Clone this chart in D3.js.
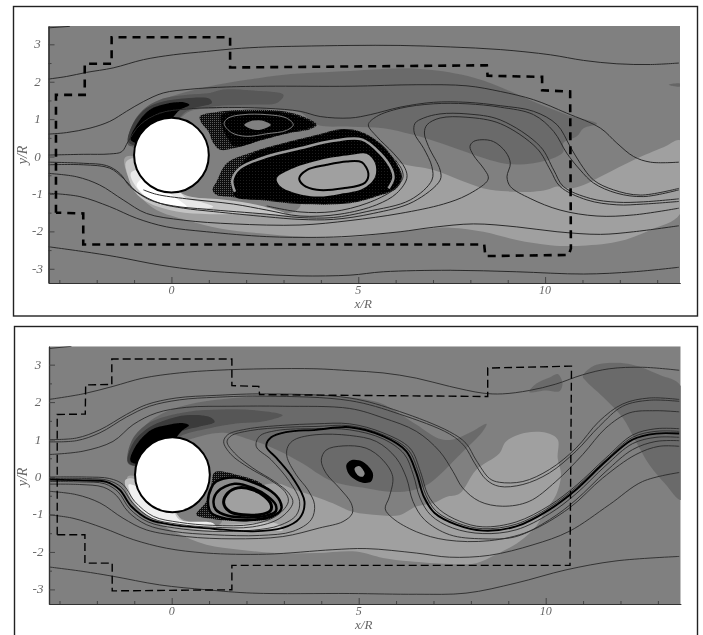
<!DOCTYPE html>
<html>
<head>
<meta charset="utf-8">
<style>
body { margin: 0; background: #fff; }
svg { display: block; }
.tick-label, .axis-title { font-family: "Liberation Serif", serif; font-style: italic; fill: #666; }
</style>
<script src="https://cdn.jsdelivr.net/npm/d3@7"></script>
</head>
<body>
<svg id="chart"></svg>
<script>
// tick values, shared by both panels
const xMajor = [0, 5, 10];
const xMinor = [-3, -2, -1, 1, 2, 3, 4, 6, 7, 8, 9, 11, 12, 13];
const yMajor = [-3, -2, -1, 0, 1, 2, 3];
const yMinor = [-3.5, -2.5, -1.5, -0.5, 0.5, 1.5, 2.5, 3.5];

// upper panel: filled levels, all in x/R, y/R
const p1Wake = [[-1.11,0.36],[-1.07,0.76],[-0.71,1.25],[-0.13,1.56],[0.94,1.86],[2.01,2.05],[3.00,2.19],[4.78,2.29],[6.57,2.35],[7.91,2.16],[8.80,1.86],[9.69,1.47],[10.58,1.12],[11.39,0.88],[11.03,0.76],[10.85,0.54],[10.49,0.36],[10.49,0.13],[10.23,-0.04],[9.69,-0.18],[8.98,-0.20],[8.35,-0.04],[7.46,0.27],[6.47,0.58],[5.67,0.76],[4.78,0.80],[3.89,0.85],[3.44,1.18],[2.55,1.28],[1.21,1.28],[0.50,1.21],[0.00,0.80],[-0.60,0.40],[-0.95,0.20]];
const p1Dark1 = [[-1.16,0.31],[-1.07,0.80],[-0.76,1.25],[-0.31,1.52],[0.41,1.65],[1.03,1.70],[1.39,1.79],[2.11,1.77],[3.00,1.65],[2.82,1.43],[2.20,1.39],[1.12,1.34],[0.41,1.21],[0.00,0.80],[-0.60,0.50],[-0.90,0.30]];
const p1Dark2 = [[-1.16,0.40],[-1.02,0.89],[-0.67,1.29],[-0.22,1.47],[0.41,1.56],[1.03,1.54],[1.08,1.43],[0.68,1.32],[0.14,1.21],[-0.10,0.80],[-0.60,0.50],[-0.95,0.30]];
const p1Dark3 = [[-1.09,0.45],[-0.93,0.85],[-0.58,1.25],[-0.13,1.41],[0.32,1.45],[0.48,1.38],[0.23,1.25],[0.00,1.00],[-0.40,0.60],[-0.80,0.35]];
const p1Light = [[3.44,-0.27],[4.78,0.18],[5.67,0.04],[6.12,-0.18],[7.01,-0.36],[7.73,-0.63],[8.53,-0.89],[9.24,-0.94],[9.69,-0.94],[10.05,-0.89],[10.32,-0.80],[10.67,-0.85],[11.03,-0.76],[11.57,-0.49],[12.37,-0.09],[13.17,0.25],[13.62,0.43],[13.62,-1.52],[12.82,-1.96],[11.92,-2.28],[10.85,-2.39],[10.14,-2.37],[9.24,-2.23],[8.35,-2.01],[7.46,-1.90],[6.12,-2.01],[4.78,-2.16],[3.44,-2.14],[2.37,-2.05],[1.30,-1.92],[0.41,-1.70],[-0.40,-1.43],[-0.84,-1.07],[-1.16,-0.54],[-1.25,-0.04],[-1.02,0.00],[-0.75,-0.80],[-0.31,-0.98],[0.41,-1.07],[1.12,-1.16],[2.10,-1.34],[3.08,-1.52],[3.44,-1.34]];
const p1Pale1 = [[-1.22,-0.15],[-1.17,-0.50],[-0.98,-0.94],[-0.58,-1.25],[0.14,-1.47],[1.03,-1.54],[2.28,-1.52],[3.08,-1.54],[2.28,-1.29],[1.48,-1.16],[0.49,-1.07],[0.00,-0.85],[-0.50,-0.70],[-0.85,-0.30],[-1.00,-0.05]];
const p1Pale2 = [[-1.09,-0.45],[-0.89,-0.89],[-0.49,-1.21],[0.14,-1.34],[0.94,-1.38],[1.12,-1.34],[0.76,-1.21],[0.41,-1.12],[0.10,-0.85],[-0.50,-0.70],[-0.85,-0.35]];
const p1Pale3 = [[-0.93,-0.76],[-0.67,-1.07],[-0.22,-1.25],[0.41,-1.34],[0.14,-1.12],[-0.30,-0.80],[-0.70,-0.55]];
const p1Streak = [[13.31,1.92],[13.62,1.95],[13.62,1.88],[13.44,1.88]];

// upper panel: the two recirculation cells
const p1TopCell = [[0.76,1.07],[1.21,1.19],[2.10,1.25],[3.00,1.21],[3.62,1.03],[3.89,0.85],[3.71,0.73],[3.17,0.63],[2.46,0.45],[1.66,0.22],[1.30,0.18],[1.12,0.36],[0.99,0.67],[0.81,0.89]];
const p1TopCore = [[1.34,1.12],[2.10,1.21],[3.00,1.18],[3.60,1.00],[3.84,0.85],[3.67,0.75],[3.17,0.64],[2.46,0.46],[1.70,0.27],[1.50,0.49],[1.37,0.76]];
const p1TopRing = [[1.41,0.88],[1.52,1.03],[1.92,1.12],[2.55,1.12],[3.08,1.03],[3.26,0.85],[3.08,0.70],[2.55,0.61],[2.01,0.54],[1.61,0.64]];
const p1TopEye = [[1.95,0.85],[2.10,0.94],[2.30,0.97],[2.50,0.94],[2.66,0.85],[2.50,0.75],[2.30,0.71],[2.10,0.75]];
const p1LowCell = [[1.10,-0.89],[1.21,-0.67],[1.48,-0.18],[2.19,0.13],[3.00,0.36],[3.89,0.58],[4.51,0.73],[5.05,0.67],[5.58,0.36],[6.03,-0.18],[6.17,-0.54],[6.03,-0.85],[5.49,-1.07],[4.78,-1.25],[3.44,-1.27],[2.55,-1.18],[1.66,-1.09],[1.21,-1.03]];
const p1LowCore = [[1.70,-1.07],[1.66,-0.63],[1.92,-0.13],[2.19,0.09],[3.00,0.34],[3.89,0.56],[4.51,0.71],[5.05,0.65],[5.58,0.34],[6.01,-0.18],[6.15,-0.54],[6.01,-0.83],[5.49,-1.05],[4.78,-1.23],[3.44,-1.25],[2.55,-1.16]];
const p1LowBand = [[1.70,-0.94],[1.63,-0.63],[1.83,-0.31],[2.55,0.00],[3.44,0.22],[4.33,0.42],[5.09,0.46],[5.58,0.09],[5.90,-0.36],[5.94,-0.58],[5.81,-0.85]];
const p1LowPool = [[2.82,-0.58],[3.26,-0.31],[3.98,-0.09],[4.78,0.04],[5.23,0.07],[5.45,-0.18],[5.45,-0.54],[5.14,-0.85],[4.51,-1.00],[3.89,-1.07],[3.26,-0.96],[2.91,-0.79]];
const p1LowRing = [[3.42,-0.58],[3.62,-0.36],[4.16,-0.22],[4.69,-0.13],[5.09,-0.15],[5.27,-0.45],[5.18,-0.70],[4.60,-0.85],[3.89,-0.89],[3.53,-0.76]];

// upper panel: streamlines
const p1Corner = [[-3.30,3.44],[-2.72,3.48]];
const p1S1 = [[-3.30,2.07],[-2.81,2.14],[-2.27,2.25],[-1.56,2.37],[-0.75,2.59],[0.05,2.72],[0.94,2.81],[1.66,2.88],[2.55,2.93],[3.44,2.95],[4.78,2.97],[6.12,2.97],[7.46,2.93],[8.80,2.86],[10.14,2.72],[11.03,2.57],[11.92,2.48],[12.82,2.46],[13.58,2.50]];
const p1S2 = [[-3.30,0.60],[-2.81,0.64],[-2.18,0.76],[-1.65,0.94],[-1.20,1.21],[-0.75,1.47],[-0.22,1.70],[0.50,1.80],[1.48,1.86],[2.55,1.88],[4.78,1.88],[6.57,1.92],[7.91,1.89],[8.80,1.74],[9.69,1.52],[10.58,1.16],[11.48,0.76],[11.92,0.36],[12.37,0.00],[12.82,-0.15],[13.58,-0.15]];
const p1S3 = [[-3.30,0.04],[-2.36,0.06],[-1.65,0.07],[-1.33,0.13],[-1.16,0.40],[-0.84,0.85],[-0.31,1.16],[0.41,1.27],[1.21,1.31],[2.55,1.29],[3.44,1.21],[3.98,1.07],[4.78,1.03],[5.32,1.12],[6.12,1.32],[7.01,1.45],[7.91,1.45],[8.80,1.36],[9.69,1.21],[10.32,0.85],[10.67,0.27],[10.94,-0.18],[11.30,-0.63],[11.83,-0.89],[12.55,-1.03],[13.58,-0.85]];
const p1S4 = [[-0.75,-0.89],[-0.40,-1.01],[0.41,-1.13],[1.66,-1.27],[2.55,-1.43],[3.44,-1.59],[4.51,-1.54],[5.49,-1.29],[6.03,-0.98],[6.30,-0.58],[6.25,-0.31],[5.94,0.09],[5.49,0.54],[5.27,0.85],[5.49,1.07],[6.12,1.29],[7.01,1.41],[7.91,1.41],[8.80,1.32],[9.69,1.12],[10.23,0.67],[10.58,0.09],[10.94,-0.36],[11.30,-0.71],[11.92,-0.98],[12.64,-1.07],[13.58,-0.89]];
const p1S5 = [[2.55,-1.32],[3.44,-1.48],[4.33,-1.47],[5.23,-1.25],[5.94,-0.89],[6.19,-0.58],[6.17,-0.36],[5.99,-0.09]];
const p1S6 = [[-3.30,-0.15],[-2.36,-0.18],[-1.74,-0.24],[-1.38,-0.45],[-1.11,-0.80],[-0.58,-1.16],[0.05,-1.32],[0.94,-1.41],[2.55,-1.54],[3.44,-1.63],[4.33,-1.63],[5.23,-1.47],[6.39,-1.16],[6.97,-0.63],[6.97,-0.27],[6.75,0.22],[6.50,0.63],[6.52,0.89],[6.75,1.03],[7.19,1.14],[7.91,1.14],[8.80,0.98],[9.87,0.27],[10.23,-0.36],[10.49,-0.80],[11.21,-1.12],[11.92,-1.22],[12.64,-1.21],[13.58,-1.13]];
const p1S7 = [[-3.30,-0.22],[-2.36,-0.22],[-1.65,-0.31],[-1.29,-0.58],[-0.93,-0.94],[-0.31,-1.25],[0.32,-1.38],[1.12,-1.47],[2.55,-1.61],[3.44,-1.68],[4.33,-1.68],[5.40,-1.52],[6.47,-1.21],[7.19,-0.63],[7.19,-0.36],[6.88,0.27],[6.77,0.63],[6.84,0.85],[7.19,1.03],[7.91,1.05],[8.80,0.88],[9.78,0.22],[10.14,-0.36],[10.40,-0.80],[11.12,-1.16],[11.92,-1.29],[12.64,-1.27],[13.58,-1.20]];
const p1S8 = [[-3.30,-0.45],[-2.54,-0.54],[-1.92,-0.76],[-1.29,-1.16],[-0.67,-1.52],[0.32,-1.70],[1.66,-1.80],[3.44,-1.83],[4.78,-1.71],[6.12,-1.52],[7.28,-1.27],[7.91,-1.03],[8.44,-0.67],[8.48,-0.54],[8.35,-0.31],[8.08,0.04],[7.99,0.27],[8.08,0.40],[8.31,0.45],[8.62,0.40],[8.94,0.13],[9.07,-0.18],[8.98,-0.54],[9.07,-0.80],[9.60,-1.12],[10.40,-1.43],[11.39,-1.59],[12.37,-1.56],[13.58,-1.38]];
const p1S9 = [[-3.30,-0.98],[-2.45,-1.07],[-1.65,-1.34],[-0.93,-1.65],[-0.13,-1.88],[0.94,-2.01],[2.55,-2.14],[3.89,-2.16],[4.78,-2.13],[6.12,-2.01],[7.01,-1.89],[8.08,-1.80],[9.24,-1.88],[10.32,-2.01],[11.48,-2.08],[12.37,-2.01],[13.58,-1.85]];
const p1S10 = [[-3.30,-2.41],[-2.36,-2.54],[-1.47,-2.68],[-0.31,-2.90],[0.76,-3.04],[2.10,-3.13],[3.44,-3.19],[4.78,-3.17],[5.67,-3.08],[7.46,-3.04],[9.24,-3.08],[11.03,-3.14],[12.37,-3.08],[13.58,-2.96]];
const p1Lines = [p1Corner, p1S1, p1S2, p1S3, p1S4, p1S5, p1S6, p1S7, p1S8, p1S9, p1S10];

// dashed box, upper panel
const p1Box = [[-3.09,-1.50],[-3.09,1.65],[-2.32,1.65],[-2.32,2.48],[-1.60,2.48],[-1.60,3.19],[1.57,3.19],[1.57,2.38],[8.44,2.44],[8.46,2.16],[9.92,2.13],[9.92,1.77],[10.67,1.74],[10.69,-2.46],[10.63,-2.63],[8.40,-2.66],[8.37,-2.35],[-2.36,-2.35],[-2.36,-1.52],[-3.09,-1.50]];

// lower panel: filled levels
const p2Wake = [[-1.08,0.33],[-1.03,0.77],[-0.68,1.40],[-0.14,1.75],[0.66,1.98],[1.64,2.11],[2.97,2.18],[4.76,2.13],[5.56,1.98],[6.00,1.75],[6.54,1.40],[7.16,1.02],[7.52,1.00],[7.96,1.18],[8.42,1.42],[8.32,1.22],[7.70,0.59],[6.89,-0.17],[6.45,-0.35],[5.91,-0.40],[5.20,-0.30],[4.31,-0.12],[3.42,0.41],[2.80,0.73],[2.08,1.00],[1.37,1.18],[0.61,1.04],[0.00,0.80],[-0.60,0.40]];
const p2Dark1 = [[-1.17,0.37],[-1.08,0.95],[-0.68,1.40],[-0.14,1.62],[0.48,1.75],[1.28,1.80],[2.17,1.79],[2.97,1.65],[2.44,1.48],[1.73,1.43],[1.02,1.30],[0.21,1.07],[0.00,0.80],[-0.60,0.50],[-0.95,0.30]];
const p2Dark2 = [[-1.17,0.40],[-1.03,0.91],[-0.63,1.31],[-0.14,1.53],[0.39,1.65],[1.02,1.60],[1.15,1.47],[0.75,1.35],[0.21,1.18],[0.00,0.80],[-0.60,0.50],[-0.95,0.30]];
const p2Dark3 = [[-1.10,0.42],[-0.94,0.86],[-0.54,1.26],[-0.14,1.38],[0.26,1.44],[0.46,1.38],[0.26,1.22],[0.00,0.90],[-0.40,0.60],[-0.85,0.35]];
const p2Light = [[8.76,0.63],[8.94,0.95],[9.47,1.18],[10.01,1.18],[10.32,1.00],[10.32,0.51],[10.41,0.06],[10.28,-0.47],[10.01,-0.87],[9.74,-1.32],[9.30,-1.72],[8.67,-2.07],[8.14,-2.30],[7.43,-2.32],[6.36,-2.25],[5.65,-2.16],[4.93,-1.99],[3.86,-2.03],[2.80,-2.03],[1.82,-1.94],[0.93,-1.81],[0.04,-1.45],[-0.68,-1.01],[-1.12,-0.47],[-1.17,0.02],[-0.85,-0.03],[0.04,-1.01],[1.28,-1.27],[1.46,-0.70],[2.08,-0.35],[2.80,-0.17],[3.33,-0.35],[3.86,-0.53],[4.31,-0.70],[4.84,-0.93],[5.56,-1.02],[6.09,-1.02],[6.54,-0.79],[6.98,-0.70],[7.34,-0.53],[7.70,-0.44],[8.14,0.19]];
const p2Far = [[10.99,2.69],[11.26,2.96],[11.79,3.05],[12.32,3.00],[13.04,2.73],[13.62,2.42],[13.62,-0.61],[13.21,-0.20],[12.77,0.33],[12.41,0.95],[12.06,1.58],[11.52,2.15],[11.08,2.56]];
const p2Patch = [[9.56,2.27],[9.74,2.49],[10.10,2.66],[10.32,2.75],[10.45,2.51],[10.37,2.29],[10.01,2.31]];
const p2Pale1 = [[-1.24,-0.08],[-1.15,-0.48],[-0.85,-0.88],[-0.32,-1.20],[0.48,-1.37],[1.46,-1.46],[2.53,-1.42],[2.97,-1.42],[2.80,-1.24],[1.64,-1.27],[0.39,-1.23],[0.00,-0.85],[-0.50,-0.70],[-0.85,-0.30],[-1.00,-0.05]];
const p2Pale2 = [[-1.15,-0.20],[-0.94,-0.74],[-0.50,-1.10],[0.21,-1.30],[1.19,-1.35],[1.10,-1.23],[0.21,-1.14],[0.00,-0.85],[-0.50,-0.65],[-0.85,-0.30]];

// lower panel: attached cell and shed vortex core
const p2Cell = [[0.66,-1.01],[0.93,-0.65],[1.06,-0.20],[1.15,0.13],[1.82,0.04],[2.44,-0.20],[2.96,-0.78],[2.71,-1.08],[1.91,-1.18],[1.10,-1.12]];
const p2Ring1 = [[1.19,-0.12],[1.68,-0.01],[2.22,-0.16],[2.66,-0.38],[2.89,-0.63],[2.93,-0.85],[2.75,-1.02],[2.08,-1.15],[1.46,-1.11],[1.06,-0.96],[0.97,-0.65],[1.06,-0.29]];
const p2Ring2 = [[1.24,-0.38],[1.68,-0.18],[2.17,-0.29],[2.57,-0.52],[2.78,-0.74],[2.78,-0.92],[2.53,-1.03],[1.99,-1.08],[1.46,-1.02],[1.18,-0.87],[1.12,-0.63]];
const p2Ring3 = [[1.39,-0.69],[1.50,-0.43],[1.77,-0.29],[2.17,-0.34],[2.49,-0.52],[2.66,-0.74],[2.64,-0.90],[2.44,-0.99],[1.91,-1.01],[1.55,-0.92]];
const p2Core = [[4.67,0.32],[4.80,0.45],[5.11,0.41],[5.38,0.10],[5.33,-0.12],[5.11,-0.15],[4.76,0.05]];
const p2CoreEye = [[4.89,0.23],[5.02,0.29],[5.16,0.10],[5.11,0.01],[4.98,0.05]];

// lower panel: streamlines
const p2Corner = [[-3.29,3.43],[-2.68,3.49]];
const p2T1 = [[-3.29,2.07],[-2.37,2.22],[-1.57,2.42],[-0.77,2.64],[0.21,2.78],[1.19,2.85],[2.53,2.89],[3.86,2.89],[4.76,2.84],[5.65,2.78],[6.54,2.64],[7.43,2.42],[8.32,2.24],[8.85,2.22],[9.56,2.31],[10.27,2.48],[10.99,2.73],[11.70,2.89],[12.59,2.93],[13.57,2.85]];
const p2T2 = [[-3.29,1.00],[-2.55,1.04],[-1.92,1.26],[-1.21,1.67],[-0.68,1.93],[0.12,2.11],[1.19,2.18],[2.53,2.22],[4.76,2.11],[6.09,1.75],[7.43,1.21],[7.87,0.90],[8.14,0.45],[8.50,-0.04],[8.76,-0.14],[9.39,-0.12],[10.10,0.20],[10.81,0.77],[11.43,1.49],[12.06,1.95],[12.77,2.11],[13.57,2.07]];
const p2T3 = [[-3.29,0.94],[-2.55,0.97],[-1.92,1.18],[-1.21,1.60],[-0.59,1.89],[0.21,2.06],[1.19,2.13],[2.53,2.16],[4.76,2.04],[6.09,1.68],[7.43,1.15],[7.83,0.82],[8.10,0.37],[8.41,-0.07],[8.76,-0.25],[9.39,-0.20],[10.10,0.11],[10.81,0.69],[11.43,1.35],[12.06,1.89],[12.77,2.05],[13.57,2.02]];
const p2T4 = [[-3.29,0.60],[-2.37,0.69],[-1.57,0.95],[-1.03,1.40],[-0.41,1.71],[0.39,1.86],[1.64,1.89],[2.97,1.89],[4.76,1.83],[5.65,1.58],[6.54,1.22],[7.16,0.69],[7.52,0.15],[7.78,-0.29],[8.23,-0.65],[8.85,-0.78],[9.56,-0.65],[10.27,-0.12],[10.99,0.60],[11.61,1.31],[12.23,1.71],[12.95,1.77],[13.57,1.74]];
const p2Band = [[-3.29,-0.07],[-2.37,-0.09],[-1.75,-0.13],[-1.39,-0.34],[-1.08,-0.78],[-0.59,-1.14],[0.12,-1.29],[1.10,-1.38],[2.17,-1.45],[2.97,-1.36],[3.42,-1.10],[3.55,-0.65],[3.24,-0.03],[2.80,0.51],[2.53,0.82],[2.66,1.06],[3.06,1.20],[3.86,1.26],[4.76,1.33],[5.65,1.09],[6.27,0.69],[6.54,0.11],[6.74,-0.52],[7.03,-0.96],[7.61,-1.27],[8.32,-1.43],[9.21,-1.32],[10.10,-0.87],[10.81,-0.34],[11.61,0.42],[12.32,1.00],[12.95,1.16],[13.57,1.16]];
const p2A = [[-3.29,0.00],[-2.28,0.00],[-1.66,-0.04],[-1.30,-0.20],[-0.99,-0.65],[-0.49,-1.05],[0.21,-1.21],[1.10,-1.29],[2.17,-1.26],[2.84,-1.01],[3.12,-0.65],[3.02,-0.38],[2.62,-0.07],[2.08,0.24],[1.59,0.60],[1.39,0.94],[1.50,1.13],[2.00,1.28],[2.97,1.38],[3.86,1.42],[4.76,1.42],[5.65,1.18],[6.37,0.77],[6.65,0.15],[6.85,-0.47],[7.16,-0.87],[7.70,-1.18],[8.32,-1.33],[9.21,-1.20],[10.10,-0.76],[10.81,-0.23],[11.61,0.51],[12.32,1.12],[12.95,1.29],[13.57,1.29]];
const p2B = [[-3.29,-0.04],[-2.28,-0.04],[-1.70,-0.09],[-1.35,-0.27],[-1.03,-0.71],[-0.53,-1.10],[0.17,-1.26],[1.10,-1.34],[2.17,-1.33],[2.89,-1.10],[3.24,-0.69],[3.13,-0.43],[2.75,-0.12],[2.17,0.24],[1.68,0.64],[1.48,0.94],[1.59,1.10],[2.10,1.24],[3.06,1.33],[3.86,1.35],[4.76,1.37],[5.65,1.13],[6.32,0.73],[6.60,0.13],[6.80,-0.49],[7.08,-0.92],[7.65,-1.23],[8.32,-1.38],[9.21,-1.26],[10.10,-0.81],[10.81,-0.28],[11.61,0.46],[12.32,1.06],[12.95,1.22],[13.57,1.22]];
const p2C = [[-3.29,-0.12],[-2.45,-0.13],[-1.79,-0.18],[-1.43,-0.40],[-1.12,-0.85],[-0.63,-1.20],[0.08,-1.36],[1.10,-1.45],[2.17,-1.42],[2.89,-1.29],[3.33,-1.02],[3.42,-0.65],[3.15,-0.12],[2.66,0.46],[2.26,0.82],[2.35,1.09],[2.80,1.24],[3.86,1.29],[4.76,1.26],[5.65,1.02],[6.22,0.61],[6.46,0.06],[6.64,-0.56],[6.93,-1.02],[7.51,-1.36],[8.32,-1.51],[9.21,-1.41],[10.10,-0.98],[10.81,-0.45],[11.61,0.31],[12.32,0.89],[12.95,1.06],[13.57,1.06]];
const p2G = [[-3.29,-0.19],[-2.46,-0.20],[-1.83,-0.27],[-1.48,-0.49],[-1.17,-0.92],[-0.68,-1.27],[0.04,-1.45],[1.10,-1.54],[2.35,-1.56],[3.24,-1.45],[3.73,-1.14],[3.82,-0.74],[3.64,-0.34],[3.33,0.06],[3.08,0.55],[3.11,0.82],[3.29,1.00],[3.86,1.13],[4.76,1.11],[5.47,0.95],[6.00,0.51],[6.28,-0.03],[6.45,-0.65],[6.76,-1.14],[7.43,-1.54],[8.32,-1.65],[9.21,-1.59],[10.10,-1.14],[10.81,-0.61],[11.61,0.15],[12.32,0.73],[12.95,0.95],[13.57,0.97]];
const p2H = [[-3.29,-0.38],[-2.55,-0.47],[-1.92,-0.69],[-1.30,-1.10],[-0.68,-1.41],[0.39,-1.59],[1.64,-1.65],[2.97,-1.59],[3.95,-1.36],[4.58,-1.19],[4.83,-0.97],[4.80,-0.70],[4.49,-0.30],[4.13,0.10],[4.00,0.45],[4.13,0.72],[4.58,0.83],[5.20,0.77],[5.65,0.45],[5.91,0.01],[5.82,-0.53],[5.71,-0.85],[5.91,-1.10],[6.54,-1.46],[7.34,-1.68],[8.50,-1.70],[9.56,-1.45],[10.63,-0.83],[11.52,-0.03],[12.41,0.60],[13.03,0.82],[13.57,0.82]];
const p2I = [[-3.29,-1.01],[-2.64,-1.10],[-1.83,-1.36],[-1.03,-1.67],[-0.14,-1.90],[0.93,-2.03],[2.53,-2.06],[4.31,-1.94],[5.20,-1.91],[6.54,-2.03],[7.43,-2.14],[8.50,-2.09],[9.66,-1.81],[10.63,-1.45],[11.70,-0.74],[12.59,-0.12],[13.57,0.12]];
const p2J = [[-3.29,-2.40],[-2.37,-2.52],[-1.57,-2.65],[-0.32,-2.88],[0.93,-3.01],[2.17,-3.10],[4.76,-3.11],[6.54,-3.13],[7.87,-3.10],[9.21,-2.83],[10.54,-2.48],[11.88,-2.24],[13.57,-2.12]];
const p2Lines = [p2Corner, p2T1, p2T2, p2T3, p2T4, p2A, p2B, p2C, p2G, p2H, p2I, p2J];

// dashed box, lower panel
const p2Box = [[-3.06,-1.54],[-3.06,1.67],[-2.31,1.68],[-2.30,2.46],[-1.60,2.47],[-1.60,3.15],[1.61,3.15],[1.61,2.44],[2.33,2.42],[2.35,2.20],[8.45,2.15],[8.45,2.91],[10.69,2.96],[10.65,-2.36],[1.61,-2.36],[1.61,-3.01],[-1.59,-3.04],[-1.59,-2.30],[-2.32,-2.30],[-2.32,-1.54],[-3.06,-1.54]];

const width = 703, height = 635;
const GREY = "#808080", WAKE = "#6b6b6b", LIGHT = "#a0a0a0", LINE = "#2a2a2a";

const svg = d3.select("#chart").attr("width", width).attr("height", height);
svg.append("rect").attr("width", width).attr("height", height).attr("fill", "#fff");

const defs = svg.append("defs");
defs.append("filter").attr("id", "soft").attr("x", "-2%").attr("y", "-2%").attr("width", "104%").attr("height", "104%")
    .append("feGaussianBlur").attr("stdDeviation", 0.4);

// the stippled edge of the cells
const stipple = defs.append("pattern").attr("id", "stipple").attr("patternUnits", "userSpaceOnUse")
    .attr("width", 2).attr("height", 2);
stipple.append("rect").attr("width", 2).attr("height", 2).attr("fill", "#111");
stipple.append("rect").attr("width", 1).attr("height", 1).attr("fill", "#5a5a5a");

// faint grid inside the cells
const mesh = defs.append("pattern").attr("id", "mesh").attr("patternUnits", "userSpaceOnUse")
    .attr("width", 3).attr("height", 3);
mesh.append("rect").attr("width", 3).attr("height", 3).attr("fill", "#050505");
mesh.append("rect").attr("width", 1).attr("height", 1).attr("fill", "#1a1a1a");

function makePanel(id, box, domainX, domainY) {
    const g = svg.append("g").attr("filter", "url(#soft)");
    const x = d3.scaleLinear().domain(domainX).range([box.left, box.right]);
    const y = d3.scaleLinear().domain(domainY).range([box.bottom, box.top]);

    defs.append("clipPath").attr("id", id)
        .append("rect")
        .attr("x", box.left).attr("y", box.top)
        .attr("width", box.right - box.left).attr("height", box.bottom - box.top);

    const plot = g.append("g").attr("clip-path", `url(#${id})`);
    plot.append("rect")
        .attr("x", box.left).attr("y", box.top)
        .attr("width", box.right - box.left).attr("height", box.bottom - box.top)
        .attr("fill", GREY);

    const closed = d3.line().x(d => x(d[0])).y(d => y(d[1])).curve(d3.curveCatmullRomClosed.alpha(0.5));
    const open = d3.line().x(d => x(d[0])).y(d => y(d[1])).curve(d3.curveCatmullRom.alpha(0.5));
    const sharp = d3.line().x(d => x(d[0])).y(d => y(d[1]));

    return {
        g, x, y, plot,
        fill(points, color, stroke, strokeWidth) {
            plot.append("path").attr("d", closed(points)).attr("fill", color)
                .attr("stroke", stroke || "none").attr("stroke-width", strokeWidth || 0);
        },
        lines(list, color, strokeWidth) {
            plot.selectAll(null).data(list).enter().append("path")
                .attr("d", open).attr("fill", "none")
                .attr("stroke", color).attr("stroke-width", strokeWidth);
        },
        box(points, strokeWidth, dash) {
            plot.append("path").attr("d", sharp(points)).attr("fill", "none")
                .attr("stroke", "#000").attr("stroke-width", strokeWidth).attr("stroke-dasharray", dash);
        }
    };
}

function drawAxes(p, box, cylinder, titleY) {
    const r = p.x(1) - p.x(0);
    p.g.append("circle")
        .attr("cx", p.x(cylinder[0])).attr("cy", p.y(cylinder[1])).attr("r", r)
        .attr("fill", "#fff").attr("stroke", "#000").attr("stroke-width", 2);

    const bottom = p.g.append("g").attr("transform", `translate(0,${box.bottom})`);
    const left = p.g.append("g").attr("transform", `translate(${box.left},0)`);
    const inY = yMinor.filter(v => v >= p.y.domain()[0] && v <= p.y.domain()[1]);

    bottom.append("g").call(d3.axisBottom(p.x).tickValues(xMinor).tickSize(-3).tickSizeOuter(0).tickFormat(""));
    bottom.append("g").call(d3.axisBottom(p.x).tickValues(xMajor).tickSize(-6).tickSizeOuter(0).tickFormat(""));
    left.append("g").call(d3.axisLeft(p.y).tickValues(inY).tickSize(-3).tickSizeOuter(0).tickFormat(""));
    left.append("g").call(d3.axisLeft(p.y).tickValues(yMajor).tickSize(-6).tickSizeOuter(0).tickFormat(""));

    p.g.selectAll(".tick line").attr("stroke", "#444");
    p.g.selectAll(".domain").attr("stroke", "#333").attr("stroke-width", 1.2);

    p.g.selectAll(null).data(xMajor).enter().append("text")
        .attr("class", "tick-label").attr("font-size", 12).attr("text-anchor", "middle")
        .attr("x", d => p.x(d)).attr("y", box.bottom + 11).text(d => d);
    p.g.selectAll(null).data(yMajor).enter().append("text")
        .attr("class", "tick-label").attr("font-size", 13).attr("text-anchor", "middle")
        .attr("x", box.left - 11).attr("y", d => p.y(d) + 4).text(d => d);

    p.g.append("text").attr("class", "axis-title").attr("font-size", 13).attr("text-anchor", "middle")
        .attr("x", p.x(5) + 5).attr("y", box.bottom + 25).text("x/R");
    p.g.append("text").attr("class", "axis-title").attr("font-size", 14).attr("text-anchor", "middle")
        .attr("transform", `translate(${box.left - 22},${titleY}) rotate(-90)`).text("y/R");
}

// upper panel
const box1 = {left: 48.5, right: 680, top: 26, bottom: 283};
const top1 = makePanel("clip1", box1, [-3.29, 13.61], [-3.38, 3.49]);
top1.fill(p1Wake, WAKE);
top1.fill(p1Light, LIGHT);
top1.fill(p1Dark1, "#585858");
top1.fill(p1Dark2, "#3c3c3c");
top1.fill(p1Dark3, "#000");
top1.fill(p1Pale1, "#c4c4c4");
top1.fill(p1Pale2, "#e8e8e8");
top1.fill(p1Pale3, "#fff");
top1.fill(p1Streak, "#666");
top1.fill(p1TopCell, "url(#stipple)");
top1.fill(p1TopCore, "url(#mesh)");
top1.fill(p1TopRing, "none", "#8a8a8a", 0.9);
top1.fill(p1TopEye, GREY);
top1.fill(p1LowCell, "url(#stipple)");
top1.fill(p1LowCore, "url(#mesh)");
top1.lines([p1LowBand], "#9a9a9a", 2.5);
top1.fill(p1LowPool, LIGHT);
top1.fill(p1LowRing, LIGHT, "#000", 2);
top1.lines(p1Lines, LINE, 1);
top1.box(p1Box, 2.6, "8,6");
drawAxes(top1, box1, [0, 0.04], 155);

// lower panel
const box2 = {left: 49, right: 680.7, top: 346.3, bottom: 604};
const low2 = makePanel("clip2", box2, [-3.28, 13.61], [-3.39, 3.49]);
low2.fill(p2Far, WAKE);
low2.fill(p2Patch, WAKE);
low2.fill(p2Wake, WAKE);
low2.fill(p2Light, LIGHT);
low2.fill(p2Dark1, "#575757");
low2.fill(p2Dark2, "#3a3a3a");
low2.fill(p2Dark3, "#000");
low2.fill(p2Pale1, "#c4c4c4");
low2.fill(p2Pale2, "#efefef");
low2.fill(p2Cell, "url(#stipple)");
low2.fill(p2Ring1, "#8c8c8c", "#000", 2.5);
low2.fill(p2Ring2, "#8c8c8c", "#000", 2.5);
low2.fill(p2Ring3, LIGHT, "#000", 3);
low2.fill(p2Core, "#000");
low2.fill(p2CoreEye, "#8c8c8c");
low2.lines(p2Lines, LINE, 0.9);
low2.lines([p2Band], "#000", 1.9);
low2.box(p2Box, 1.4, "8,4");
drawAxes(low2, box2, [0.02, 0.06], 477);

// outer frames, the lower one runs off the bottom of the page
svg.append("rect").attr("x", 13.5).attr("y", 6.5).attr("width", 684).attr("height", 309.5)
    .attr("fill", "none").attr("stroke", "#222").attr("stroke-width", 1.4);
svg.append("rect").attr("x", 14.5).attr("y", 326.5).attr("width", 683).attr("height", 320)
    .attr("fill", "none").attr("stroke", "#222").attr("stroke-width", 1.4);
</script>
</body>
</html>
